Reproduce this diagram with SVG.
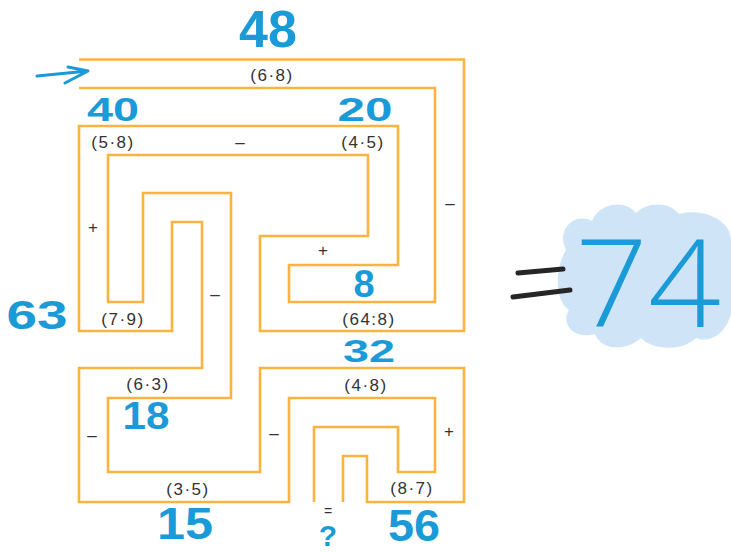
<svg xmlns="http://www.w3.org/2000/svg" width="731" height="552" viewBox="0 0 731 552">
<style>
.wall{fill:none;stroke:#fbb340;stroke-width:2.6;stroke-linejoin:miter;stroke-linecap:butt}
.op{font-family:"Liberation Sans",Arial,sans-serif;font-size:17px;fill:#333;text-anchor:middle;letter-spacing:1.5px}
.sg{font-family:"Liberation Sans",Arial,sans-serif;font-size:17px;fill:#333;text-anchor:middle}
.num{font-family:"Liberation Sans",Arial,sans-serif;font-weight:bold;fill:#1b9ad8;text-anchor:middle}
.big{font-family:"Open Sans","Liberation Sans",Arial,sans-serif;font-weight:300;fill:#1b9ad8;text-anchor:middle}
</style>
<rect width="731" height="552" fill="#ffffff"/>
<g id="result">
<path d="M566,250 C556,230 574,212 592,221 C598,204 624,198 636,213 C646,203 668,200 679,214 C699,208 731,218 731,240 L731,305 C734,322 716,346 696,338 C682,352 652,350 641,338 C626,352 600,350 595,334 C575,340 560,325 569,310 C554,300 555,268 566,250 Z" fill="#cfe4f6"/>
<path d="M518,273 L563,269 M513,297 L570,290" stroke="#262626" stroke-width="5" stroke-linecap="round" fill="none"/>
<text x="648" y="327" class="big" font-size="122" textLength="146" lengthAdjust="spacingAndGlyphs">74</text>
</g>
<g id="maze">
<path class="wall" d="M79,59.5 H464 V331 H260 V236 H368 V155 H108 V302 H143 V193 H231 V398 H108 V472 H260 V368 H464 V502 H367 V456 H343 V502"/>
<path class="wall" d="M79,88 H435 V302 H289 V265 H398 V126 H79 V331 H172 V222 H202 V368 H79 V502 H289 V398 H435 V472 H398 V427 H314 V502"/>
</g>
<g id="arrow" stroke="#1b9ad8" stroke-width="3" stroke-linecap="round" stroke-linejoin="round" fill="none">
<path d="M37,76 L88,71 M68,67 L88,71 L65,83"/>
</g>
<g id="numbers">
<text x="268" y="47" class="num" font-size="52">48</text>
<text x="113" y="121" class="num" font-size="34" textLength="52" lengthAdjust="spacingAndGlyphs">40</text>
<text x="365" y="121" class="num" font-size="34" textLength="55" lengthAdjust="spacingAndGlyphs">20</text>
<text x="364" y="297" class="num" font-size="38">8</text>
<text x="37" y="329" class="num" font-size="40" textLength="61" lengthAdjust="spacingAndGlyphs">63</text>
<text x="369" y="362" class="num" font-size="32" textLength="52" lengthAdjust="spacingAndGlyphs">32</text>
<text x="146" y="429" class="num" font-size="38" textLength="47" lengthAdjust="spacingAndGlyphs">18</text>
<text x="185" y="539" class="num" font-size="44" textLength="56" lengthAdjust="spacingAndGlyphs">15</text>
<text x="414" y="541" class="num" font-size="44" textLength="52" lengthAdjust="spacingAndGlyphs">56</text>
<text x="328" y="546" class="num" font-size="30">?</text>
<text x="328" y="516" class="sg" style="font-size:14px">=</text>
</g>
<g id="operations">
<text x="272" y="81" class="op">(6·8)</text>
<text x="113" y="148" class="op">(5·8)</text>
<text x="363" y="148" class="op">(4·5)</text>
<text x="123" y="325" class="op">(7·9)</text>
<text x="369" y="325" class="op">(64:8)</text>
<text x="148" y="390" class="op">(6·3)</text>
<text x="366" y="391" class="op">(4·8)</text>
<text x="188" y="495" class="op">(3·5)</text>
<text x="412" y="494" class="op">(8·7)</text>
<text x="240" y="148" class="sg">–</text>
<text x="450" y="209" class="sg">–</text>
<text x="215" y="300" class="sg">–</text>
<text x="92" y="441" class="sg">–</text>
<text x="274" y="439" class="sg">–</text>
<text x="93" y="233" class="sg">+</text>
<text x="323" y="256" class="sg">+</text>
<text x="449" y="437" class="sg">+</text>
</g>
</svg>
